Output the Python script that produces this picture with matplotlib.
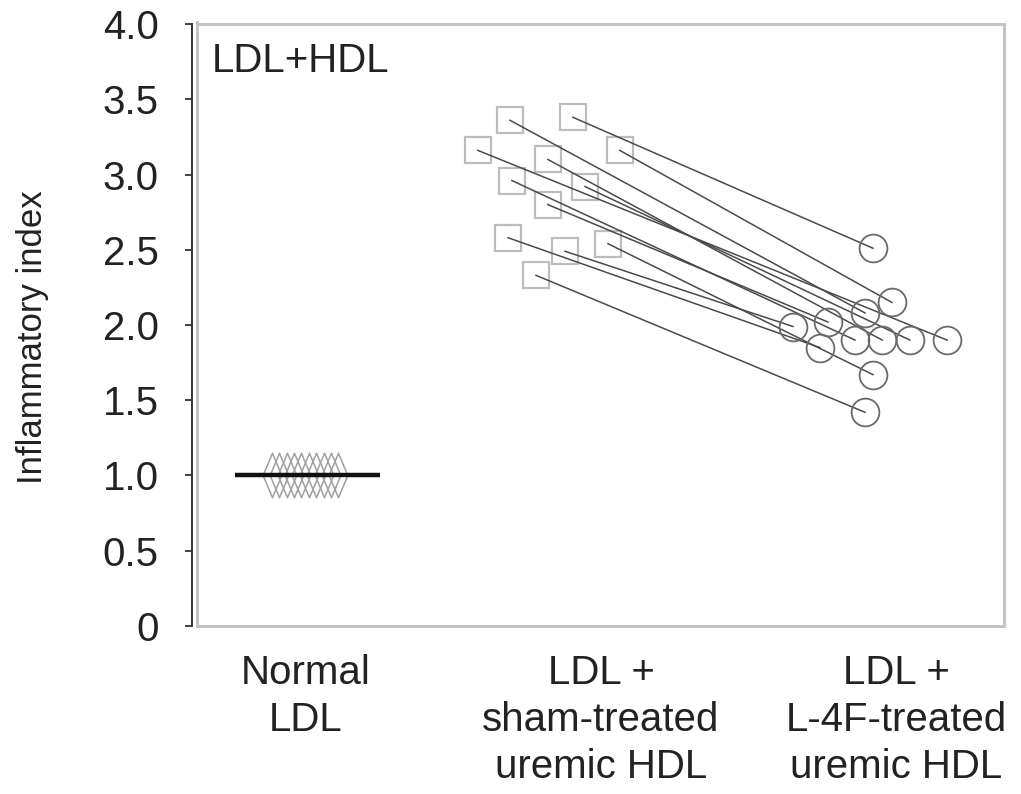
import numpy as np
import matplotlib
matplotlib.use("Agg")
from matplotlib import pyplot as plt
from matplotlib.path import Path

plt.rcParams['font.family'] = ['Liberation Sans', 'DejaVu Sans']

# data
categories = ["Normal\nLDL", "LDL +\nsham-treated\nuremic HDL", "LDL +\nL-4F-treated\nuremic HDL"]
cat_pos = [0, 1, 2]

normal_value = 1.0
normal_jitter = [-0.115, -0.09, -0.065, -0.04, -0.015, 0.01, 0.035, 0.06, 0.085, 0.108]

sham_values = [3.16, 3.36, 3.38, 3.16, 3.10, 2.96, 2.92, 2.80, 2.58, 2.49, 2.54, 2.33]
sham_jitter = [-0.417, -0.308, -0.095, 0.064, -0.180, -0.302, -0.054, -0.180, -0.315, -0.122, 0.024, -0.220]

l4f_values = [1.90, 2.08, 2.51, 2.15, 1.90, 1.90, 1.90, 2.02, 1.85, 1.99, 1.67, 1.42]
l4f_jitter = [0.173, -0.105, -0.078, -0.014, -0.047, -0.139, 0.047, -0.231, -0.258, -0.349, -0.078, -0.105]

yticks = [0, 0.5, 1.0, 1.5, 2.0, 2.5, 3.0, 3.5, 4.0]
ytick_labels = ["0", "0.5", "1.0", "1.5", "2.0", "2.5", "3.0", "3.5", "4.0"]

fig = plt.figure(figsize=(10.21, 7.94), dpi=100)
ax = fig.add_axes([0.19295, 0.21159, 0.7904, 0.75818])

txt = '#222222'
frame = '#c4c4c4'

# spines first: set_position resets the ticks
for s in ['top', 'right', 'bottom']:
    ax.spines[s].set_color(frame)
    ax.spines[s].set_linewidth(2.2)
ax.spines['left'].set_position(('outward', 3.6))
ax.spines['left'].set_color('#333333')
ax.spines['left'].set_linewidth(1.4)
ax.plot([0, 0], [0, 1.003], transform=ax.transAxes, color=frame, lw=2.2, clip_on=False, zorder=1)

# tall narrow diamond marker
diamond = Path([(0, 1), (0.42, 0), (0, -1), (-0.42, 0), (0, 1)],
               [Path.MOVETO, Path.LINETO, Path.LINETO, Path.LINETO, Path.CLOSEPOLY])

nx = cat_pos[0] + np.array(normal_jitter)
ax.plot(nx, [normal_value] * len(nx), linestyle='none', marker=diamond, markersize=32,
        markerfacecolor='none', markeredgecolor='#a0a0a0', markeredgewidth=1.1, zorder=2)
ax.plot([cat_pos[0] - 0.24, cat_pos[0] + 0.25], [normal_value, normal_value],
        color='#111111', lw=3.2, solid_capstyle='butt', zorder=3)

sx = cat_pos[1] + np.array(sham_jitter)
lx = cat_pos[2] + np.array(l4f_jitter)

ax.plot(sx, sham_values, linestyle='none', marker='s', markersize=19,
        markerfacecolor='none', markeredgecolor='#bdbdbd', markeredgewidth=1.6, zorder=2)
for x0, y0, x1, y1 in zip(sx, sham_values, lx, l4f_values):
    ax.plot([x0, x1], [y0, y1], color='#4a4a4a', lw=1.1, zorder=3)
ax.plot(lx, l4f_values, linestyle='none', marker='o', markersize=20,
        markerfacecolor='none', markeredgecolor='#6a6a6a', markeredgewidth=1.3, zorder=4)

ax.set_xlim(-0.369, 2.366)
ax.set_ylim(0, 4.0)

ax.set_yticks(yticks)
ax.set_yticklabels(ytick_labels, fontsize=29, color=txt)
ax.set_xticks(cat_pos)
ax.set_xticklabels(categories, fontsize=29, color=txt, linespacing=1.3)
ax.tick_params(axis='x', length=0, pad=20)
ax.tick_params(axis='y', length=5, width=1.3, color='#333333', direction='out', pad=19)
ax.set_ylabel("Inflammatory index", fontsize=25, color=txt)
ax.yaxis.set_label_coords(-0.184, 0.48)

ax.text(0.0186, 0.97, "LDL+HDL", transform=ax.transAxes, fontsize=29, color=txt,
        ha='left', va='top')

fig.savefig("out.png", dpi=100)
